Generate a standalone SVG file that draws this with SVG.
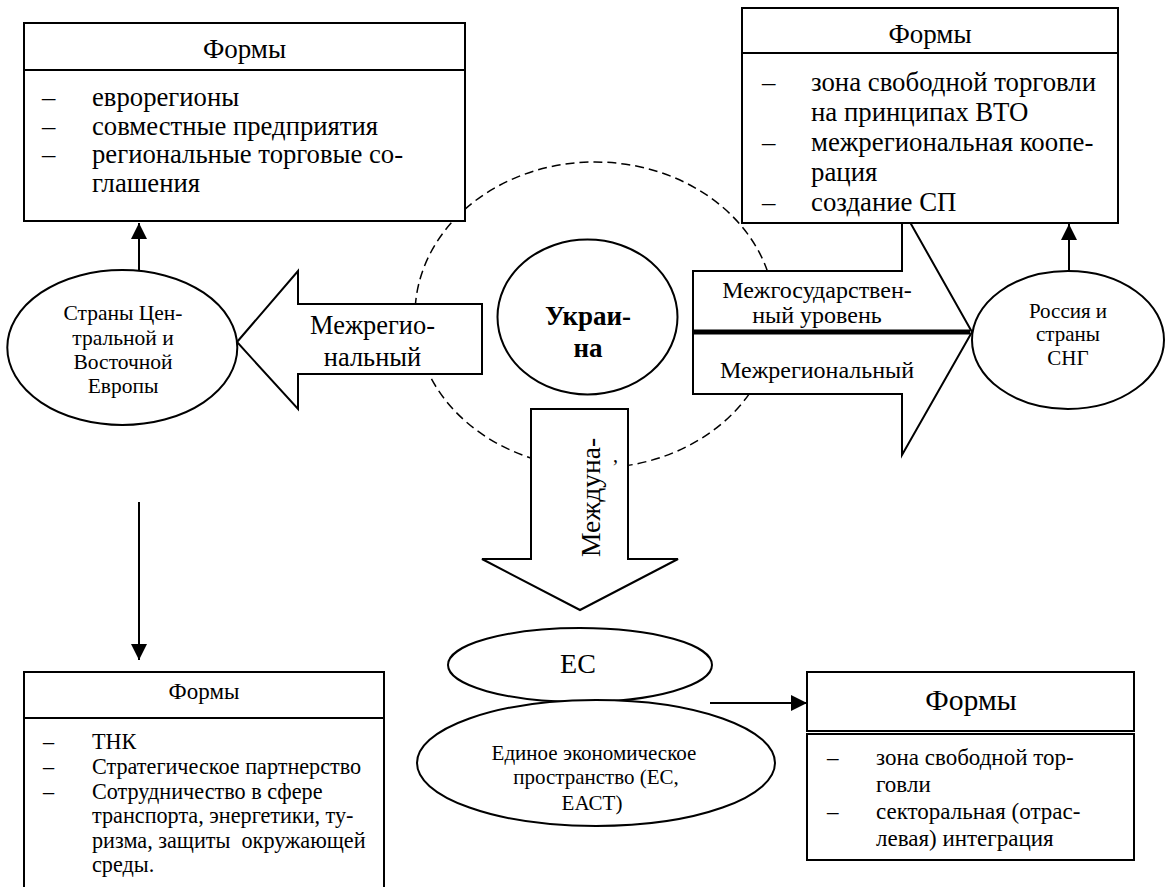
<svg xmlns="http://www.w3.org/2000/svg" width="1165" height="887" viewBox="0 0 1165 887" font-family="'Liberation Serif', 'DejaVu Serif', 'Noto Serif', 'FreeSerif', 'Tinos', serif">
<defs>
<style>
text{font-family:'Liberation Serif','DejaVu Serif','Noto Serif','FreeSerif','Tinos',serif;fill:#000}
.box{fill:#fff;stroke:#000;stroke-width:2}
.ell{fill:#fff;stroke:#000;stroke-width:2}
.big{fill:#fff;stroke:#000;stroke-width:2;stroke-linejoin:miter}
.con{stroke:#000;stroke-width:2;fill:none}
.c{text-anchor:middle}
</style>
<marker id="ah" markerUnits="userSpaceOnUse" markerWidth="16" markerHeight="16" viewBox="0 0 16 16" refX="16" refY="8" orient="auto">
<path d="M0,0 L16,8 L0,16 Z" fill="#000"/>
</marker>
</defs>
<rect width="1165" height="887" fill="#fff"/>

<g id="dashed-circle">
<ellipse cx="595" cy="315" rx="180" ry="153" fill="none" stroke="#000" stroke-width="1.5" stroke-dasharray="9,5"/>
</g>

<g id="arrow-left">
<polygon class="big" points="237,342 298,271 298,304 482,304 482,374 298,374 298,409"/>
<text class="c" x="372.5" y="334" font-size="26.4">Межрегио-</text>
<text class="c" x="372.5" y="366" font-size="26.4">нальный</text>
</g>

<g id="arrow-right">
<polygon class="big" points="693,271 902,271 902,208 972,332 902,455 902,394 693,394"/>
<line x1="693" y1="332" x2="970" y2="332" stroke="#000" stroke-width="5"/>
<text class="c" x="817" y="298" font-size="24">Межгосударствен-</text>
<text class="c" x="817" y="323" font-size="24">ный уровень</text>
<text class="c" x="817" y="378" font-size="24">Межрегиональный</text>
</g>

<g id="arrow-down">
<polygon class="big" points="531,409 628,409 628,559 678,559 580,610 482,559 531,559"/>
<text transform="translate(600,557) rotate(-90)" font-size="27.5">Междуна-</text>
<text x="613" y="462" font-size="20">,</text>
</g>

<g id="box-top-left">
<rect class="box" x="24" y="23" width="441" height="198"/>
<line class="con" x1="24" y1="70" x2="465" y2="70"/>
<text class="c" x="244.5" y="58" font-size="27">Формы</text>
<g font-size="26.7">
<text x="42" y="106">–</text><text x="92" y="106">еврорегионы</text>
<text x="42" y="134.7">–</text><text x="92" y="134.7">совместные предприятия</text>
<text x="42" y="163.4">–</text><text x="92" y="163.4">региональные торговые со-</text>
<text x="92" y="192">глашения</text>
</g>
</g>

<g id="box-top-right">
<rect class="box" x="742" y="8" width="376" height="215"/>
<line class="con" x1="742" y1="53" x2="1118" y2="53"/>
<text class="c" x="930" y="43" font-size="27">Формы</text>
<g font-size="26.8">
<text x="762" y="91">–</text><text x="811" y="91">зона свободной торговли</text>
<text x="811" y="121">на принципах ВТО</text>
<text x="762" y="151">–</text><text x="811" y="151">межрегиональная коопе-</text>
<text x="811" y="181">рация</text>
<text x="762" y="211">–</text><text x="811" y="211">создание СП</text>
</g>
</g>

<g id="ukraine">
<ellipse class="ell" cx="587.5" cy="317" rx="90" ry="77.5"/>
<text class="c" x="588" y="325" font-size="27" font-weight="bold">Украи-</text>
<text class="c" x="588" y="357" font-size="27" font-weight="bold">на</text>
</g>

<g id="cee">
<ellipse class="ell" cx="122.3" cy="347.5" rx="115" ry="77.5"/>
<g font-size="21.5">
<text class="c" x="123" y="320">Страны Цен-</text>
<text class="c" x="123" y="345">тральной и</text>
<text class="c" x="123" y="369">Восточной</text>
<text class="c" x="123" y="393">Европы</text>
</g>
</g>

<g id="russia">
<ellipse class="ell" cx="1068" cy="340" rx="96" ry="69"/>
<g font-size="21">
<text class="c" x="1068" y="318">Россия и</text>
<text class="c" x="1068" y="341">страны</text>
<text class="c" x="1068" y="365">СНГ</text>
</g>
</g>

<g id="eu">
<ellipse class="ell" cx="580" cy="665" rx="132" ry="37"/>
<text class="c" x="578" y="673" font-size="28">ЕС</text>
</g>

<g id="single-space">
<ellipse class="ell" cx="596" cy="763" rx="179" ry="63"/>
<g font-size="21">
<text class="c" x="594" y="760">Единое экономическое</text>
<text class="c" x="596" y="784">пространство (ЕС,</text>
<text class="c" x="592" y="810">ЕАСТ)</text>
</g>
</g>

<g id="box-bottom-left">
<rect class="box" x="24" y="672" width="360" height="230"/>
<line class="con" x1="24" y1="718" x2="384" y2="718"/>
<text class="c" x="204" y="699" font-size="23">Формы</text>
<g font-size="22.2">
<text x="43" y="749">–</text><text x="92" y="749">ТНК</text>
<text x="43" y="774">–</text><text x="92" y="774">Стратегическое партнерство</text>
<text x="43" y="798.5">–</text><text x="92" y="798.5">Сотрудничество в сфере</text>
<text x="92" y="823">транспорта, энергетики, ту-</text>
<text x="92" y="847.5" xml:space="preserve">ризма, защиты  окружающей</text>
<text x="92" y="872">среды.</text>
</g>
</g>

<g id="box-bottom-right">
<rect class="box" x="807" y="672" width="327" height="59"/>
<text class="c" x="971" y="710" font-size="29.7">Формы</text>
<rect class="box" x="807" y="734" width="327" height="126"/>
<g font-size="23">
<text x="827" y="765">–</text><text x="876" y="765">зона свободной тор-</text>
<text x="876" y="792">говли</text>
<text x="827" y="819">–</text><text x="876" y="819">секторальная (отрас-</text>
<text x="876" y="846">левая) интеграция</text>
</g>
</g>

<g id="connectors">
<line class="con" x1="139" y1="270" x2="139" y2="223" marker-end="url(#ah)"/>
<line class="con" x1="1069" y1="271" x2="1069" y2="224" marker-end="url(#ah)"/>
<line class="con" x1="139" y1="502" x2="139" y2="660" marker-end="url(#ah)"/>
<line class="con" x1="710" y1="703" x2="807" y2="703" marker-end="url(#ah)"/>
</g>
</svg>
